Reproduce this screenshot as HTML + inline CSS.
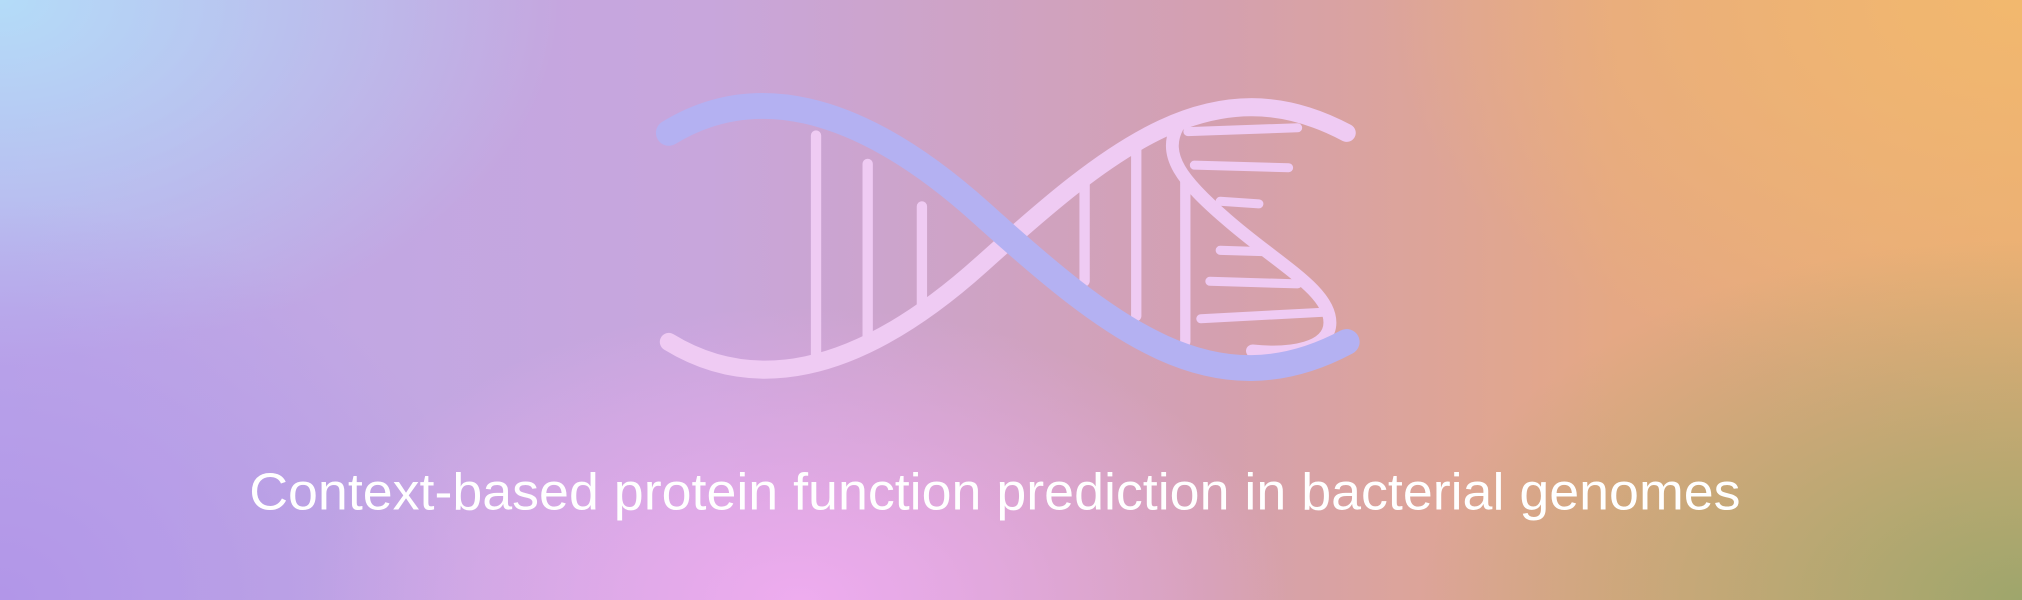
<!DOCTYPE html>
<html><head><meta charset="utf-8">
<style>
html,body{margin:0;padding:0;width:2022px;height:600px;overflow:hidden}
#banner{position:relative;width:2022px;height:600px;
background:
radial-gradient(ellipse 700px 420px at 800px 600px, rgba(240,172,240,0.95), rgba(240,172,240,0) 70%),
radial-gradient(ellipse 800px 480px at 2022px 600px, rgba(158,166,108,1), rgba(158,166,108,0) 75%),
radial-gradient(ellipse 600px 500px at 0px 600px, rgba(178,150,232,1), rgba(178,150,232,0) 80%),
radial-gradient(ellipse 700px 450px at 0px 0px, rgba(180,220,248,1), rgba(180,220,248,0) 80%),
radial-gradient(ellipse 800px 500px at 2022px 0px, rgba(242,184,110,1), rgba(242,184,110,0) 80%),
linear-gradient(90deg,#bba8ea 0%,#c8a6dc 35%,#d4a0b0 60%,#e5a884 80%,#e8ac78 100%);}
svg{position:absolute;left:0;top:0}
</style></head><body>
<div id="banner">
<svg width="2022" height="600" viewBox="0 0 1566 465" preserveAspectRatio="none">
 <g stroke="#efcbf3" stroke-linecap="round" fill="none">
  <line x1="632" y1="105" x2="632" y2="278" stroke-width="8"/>
  <line x1="672" y1="127" x2="672" y2="268" stroke-width="8"/>
  <line x1="714" y1="160" x2="714" y2="240" stroke-width="8"/>
  <line x1="840" y1="140" x2="840" y2="218" stroke-width="8"/>
  <line x1="880" y1="110" x2="880" y2="245" stroke-width="8"/>
  <line x1="918" y1="140" x2="918" y2="265" stroke-width="8"/>
  <line x1="920" y1="102" x2="1005" y2="99" stroke-width="7"/>
  <line x1="925" y1="128" x2="998" y2="130" stroke-width="7"/>
  <line x1="945" y1="156" x2="975" y2="158" stroke-width="7"/>
  <line x1="945" y1="194" x2="978" y2="195" stroke-width="7"/>
  <line x1="937" y1="218" x2="1005" y2="220" stroke-width="7"/>
  <line x1="930" y1="247" x2="1025" y2="242" stroke-width="7"/>
 </g>
 <path d="M518,265 C580,303 660,295 760,205 S 940,48 1043,103" stroke="#efcbf3" stroke-width="14" fill="none" stroke-linecap="round"/>
 <path d="M912,98 C900,120 915,140 950,170 C990,205 1030,225 1030,250 C1030,270 1000,275 970,272" stroke="#efcbf3" stroke-width="10" fill="none" stroke-linecap="round"/>
 <path d="M518,103 C580,65 660,75 760,165 S 940,320 1043,265" stroke="#b4b1f2" stroke-width="20" fill="none" stroke-linecap="round"/>
 <text x="193" y="395" textLength="1155" lengthAdjust="spacingAndGlyphs" font-family="Liberation Sans, Arial, sans-serif" font-size="40" fill="#ffffff">Context-based protein function prediction in bacterial genomes</text>
</svg>
</div>
</body></html>
